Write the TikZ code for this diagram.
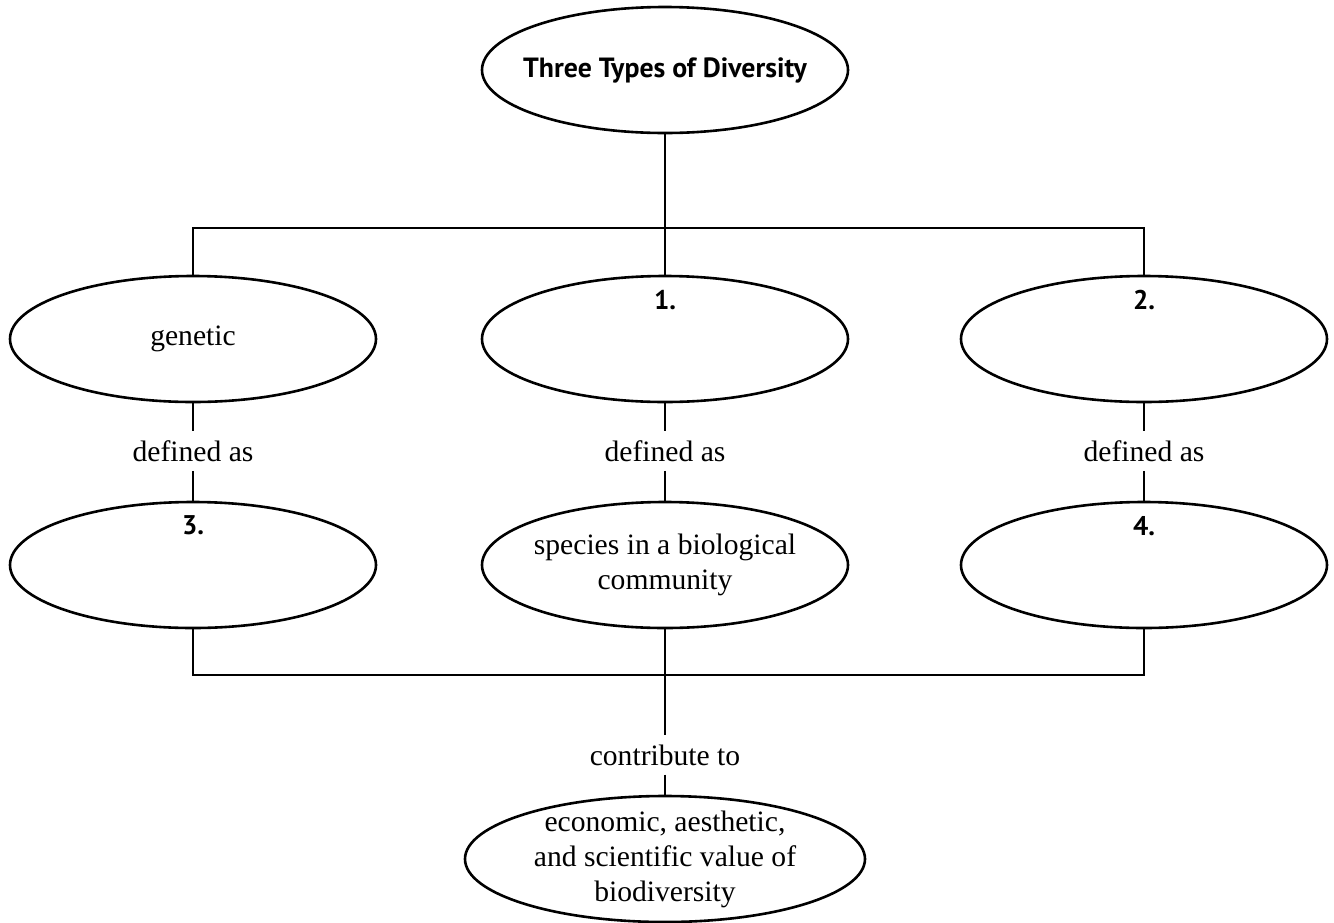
\documentclass[tikz,border=0pt]{standalone}
\usepackage{fontspec}
\setmainfont{Liberation Serif}
\newfontfamily\headsf{PT Sans}
\usetikzlibrary{shapes.geometric,positioning}
\begin{document}
\begin{tikzpicture}[x=0.5pt, y=-0.5pt, line width=1.3pt,
  oval/.style={draw, ellipse, inner xsep=-14pt, inner ysep=-6pt, minimum width=183pt, minimum height=63pt,
    align=center, font=\fontsize{14.8}{17.5}\selectfont},
  word/.style={inner sep=4pt, font=\fontsize{14.8}{17.5}\selectfont},
  num/.style={inner sep=0pt, font=\headsf\bfseries\fontsize{13.5}{15}\selectfont}]
  \useasboundingbox (0,0) rectangle (1334,922);

  \node[oval, font=\headsf\bfseries\fontsize{13.9}{15}\selectfont] (TOP) at (665,70) {Three Types of Diversity};

  \node[oval] (GEN) at (193,339) {genetic};
  \node[oval] (ONE) at (665,339) {};
  \node[oval] (TWO) at (1144,339) {};
  \node[num, below=7pt of ONE.north] (N1) {1.};
  \node[num, below=7pt of TWO.north] (N2) {2.};

  \node[word] (DA1) at (193,451) {defined as};
  \node[word] (DA2) at (665,451) {defined as};
  \node[word] (DA3) at (1144,451) {defined as};

  \node[oval] (THR) at (193,565) {};
  \node[oval] (SPC) at (665,565) {species in a biological\\community};
  \node[oval] (FOU) at (1144,565) {};
  \node[num, below=7pt of THR.north] (N3) {3.};
  \node[num, below=7pt of FOU.north] (N4) {4.};

  \node[word] (CT) at (665,755) {contribute to};
  \node[oval, minimum width=200pt] (VAL) at (665,859) {economic, aesthetic,\\and scientific value of\\biodiversity};

  \coordinate (BUSA) at (665,228);
  \coordinate (BUSB) at (665,675);

  \draw (TOP) -- (BUSA);
  \draw (GEN) |- (BUSA) -| (TWO);
  \draw (BUSA) -- (ONE);

  \draw (GEN) -- (DA1) -- (THR);
  \draw (ONE) -- (DA2) -- (SPC);
  \draw (TWO) -- (DA3) -- (FOU);

  \draw (THR) |- (BUSB) -| (FOU);
  \draw (SPC) -- (BUSB) -- (CT) -- (VAL);
\end{tikzpicture}
\end{document}
